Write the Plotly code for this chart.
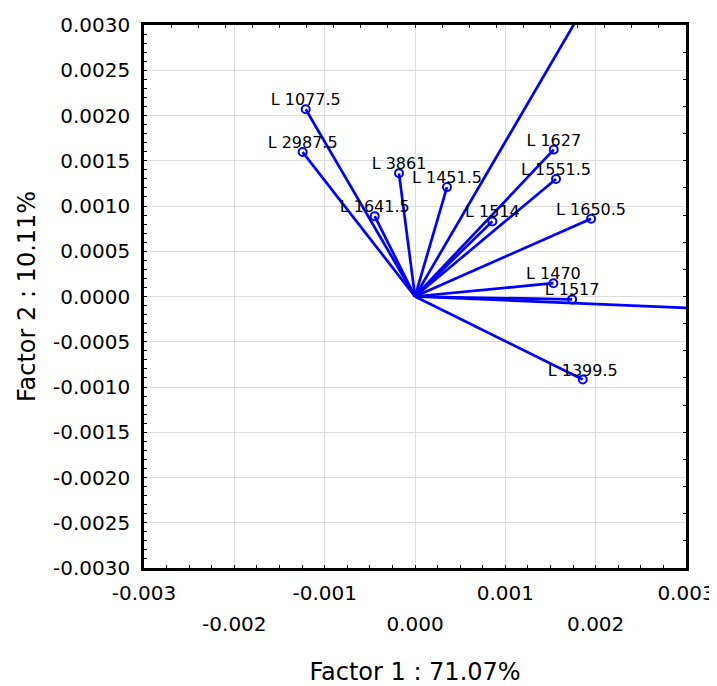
import plotly.graph_objects as go

# Variable labels and loadings (Factor 1, Factor 2)
labels = ["L 1077.5", "L 2987.5", "L 3861", "L 1641.5", "L 1451.5", "L 1514",
          "L 1627", "L 1551.5", "L 1650.5", "L 1470", "L 1517", "L 1399.5", "", ""]
factor1 = [-0.00121, -0.001244, -0.000177, -0.000446, 0.000354, 0.000856,
           0.001536, 0.001561, 0.001949, 0.001532, 0.001739, 0.001857, 0.00210, 0.00450]
factor2 = [0.002069, 0.001596, 0.001361, 0.000888, 0.001209, 0.000830,
           0.001623, 0.001298, 0.000860, 0.000147, -0.000032, -0.000918, 0.00359, -0.000188]

# Tick labels
x_row1_vals = [-0.003, -0.001, 0.001, 0.003]
x_row1_text = ["-0.003", "-0.001", "0.001", "0.003"]
x_row2_vals = [-0.002, 0.0, 0.002]
x_row2_text = ["-0.002", "0.000", "0.002"]
y_vals = [0.003, 0.0025, 0.002, 0.0015, 0.001, 0.0005, 0.0, -0.0005, -0.001,
          -0.0015, -0.002, -0.0025, -0.003]
y_text = ["0.0030", "0.0025", "0.0020", "0.0015", "0.0010", "0.0005", "0.0000",
          "-0.0005", "-0.0010", "-0.0015", "-0.0020", "-0.0025", "-0.0030"]

BLUE = "#0000ff"
GRID = "#dcdcdc"
FONT = "DejaVu Sans"

# vectors from origin
vx, vy = [], []
for a, b in zip(factor1, factor2):
    vx += [0, a, None]
    vy += [0, b, None]

fig = go.Figure()
fig.add_trace(go.Scatter(x=vx, y=vy, mode="lines",
                         line=dict(color=BLUE, width=2.7),
                         hoverinfo="skip", showlegend=False))
fig.add_trace(go.Scatter(x=factor1, y=factor2, mode="markers",
                         marker=dict(symbol="circle-open", size=8, color=BLUE,
                                     line=dict(color=BLUE, width=2)),
                         showlegend=False))
fig.add_trace(go.Scatter(x=factor1, y=factor2, mode="text",
                         text=labels, textposition="top center",
                         textfont=dict(family=FONT, size=16, color="black"),
                         hoverinfo="skip", showlegend=False))
# dummy traces on secondary axes so they render
fig.add_trace(go.Scatter(x=[None], y=[None], xaxis="x2", yaxis="y2",
                         showlegend=False, hoverinfo="skip"))
fig.add_trace(go.Scatter(x=[None], y=[None], xaxis="x3", yaxis="y",
                         showlegend=False, hoverinfo="skip"))

rng = [-0.003, 0.003]
# page body has an 8px margin, so the figure is sized/margined to compensate
fig.update_layout(
    width=709, height=678,
    margin=dict(l=136, r=31, t=17, b=118),
    paper_bgcolor="white", plot_bgcolor="white",
    font=dict(family=FONT, size=20, color="black"),
    xaxis=dict(range=rng, tickmode="array", tickvals=x_row1_vals, ticktext=x_row1_text,
               showgrid=True, gridcolor=GRID, gridwidth=1, zeroline=False, automargin=False,
               showline=True, linecolor="black", linewidth=2.5, mirror=True,
               ticks="inside", ticklen=3, tickcolor="black", ticklabelstandoff=5,
               minor=dict(tickmode="linear", tick0=-0.003, dtick=0.00025,
                          ticks="inside", ticklen=3, tickcolor="black", showgrid=False),
               title=dict(text="Factor 1 : 71.07%", font=dict(size=24, family=FONT), standoff=62),
               tickfont=dict(size=20, family=FONT)),
    xaxis3=dict(range=rng, overlaying="x", side="bottom", anchor="y", automargin=False,
                tickmode="array", tickvals=x_row2_vals, ticktext=x_row2_text,
                showgrid=True, gridcolor=GRID, gridwidth=1, zeroline=False,
                showline=False, ticks="", ticklabelstandoff=42,
                tickfont=dict(size=20, family=FONT)),
    xaxis2=dict(range=rng, overlaying="x", side="top", anchor="y2", automargin=False,
                tickmode="linear", tick0=0, dtick=0.0003, ticks="inside", ticklen=3,
                tickcolor="black", showticklabels=False, showgrid=False,
                zeroline=False, showline=False),
    yaxis=dict(range=rng, tickmode="array", tickvals=y_vals, ticktext=y_text,
               showgrid=True, gridcolor=GRID, gridwidth=1, zeroline=False, automargin=False,
               showline=True, linecolor="black", linewidth=2.5, mirror=True,
               ticks="inside", ticklen=3, tickcolor="black", ticklabelstandoff=7,
               minor=dict(tickmode="linear", tick0=-0.003, dtick=0.0001,
                          ticks="inside", ticklen=3, tickcolor="black", showgrid=False),
               title=dict(text="Factor 2 : 10.11%", font=dict(size=24, family=FONT), standoff=11),
               tickfont=dict(size=20, family=FONT)),
    yaxis2=dict(range=rng, overlaying="y", side="right", anchor="x2", automargin=False,
                tickmode="linear", tick0=0, dtick=0.0003, ticks="inside", ticklen=3,
                tickcolor="black", showticklabels=False, showgrid=False,
                zeroline=False, showline=False),
)

fig.write_html("out.html")
